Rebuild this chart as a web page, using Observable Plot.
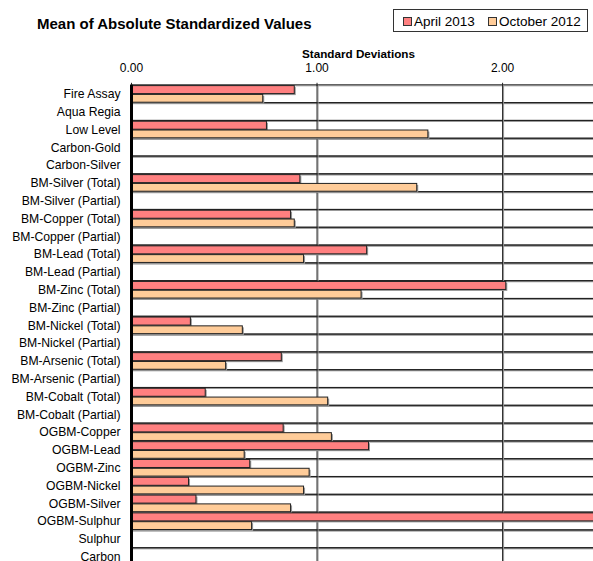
<!DOCTYPE html>
<html><head><meta charset="utf-8">
<script src="https://cdn.jsdelivr.net/npm/d3@7"></script>
<script src="https://cdn.jsdelivr.net/npm/@observablehq/plot@0.6"></script>
<style>
html,body{margin:0;padding:0;background:#fff;overflow:hidden;font-family:"Liberation Sans",Arial,sans-serif;}
#header{position:relative;height:40px;width:593px;}
#title{position:absolute;left:37px;top:14.7px;font-size:15px;font-weight:bold;color:#000;white-space:nowrap;line-height:normal;}
#legend{position:absolute;left:393px;top:9px;width:195px;height:23px;border:1px solid #333;box-sizing:border-box;}
.sw{position:absolute;top:7px;width:7px;height:7px;border:1px solid #333;}
.lt{position:absolute;top:3.5px;font-size:13.5px;white-space:nowrap;line-height:normal;color:#000;}
#chart svg g[aria-label="y-axis tick label"] text{fill:#000;}
</style></head><body>
<div id="header">
  <div id="title">Mean of Absolute Standardized Values</div>
  <div id="legend"></div>
</div>
<div id="chart"></div>
<script>
const categories = ["Fire Assay","Aqua Regia","Low Level","Carbon-Gold","Carbon-Silver","BM-Silver (Total)","BM-Silver (Partial)","BM-Copper (Total)","BM-Copper (Partial)","BM-Lead (Total)","BM-Lead (Partial)","BM-Zinc (Total)","BM-Zinc (Partial)","BM-Nickel (Total)","BM-Nickel (Partial)","BM-Arsenic (Total)","BM-Arsenic (Partial)","BM-Cobalt (Total)","BM-Cobalt (Partial)","OGBM-Copper","OGBM-Lead","OGBM-Zinc","OGBM-Nickel","OGBM-Silver","OGBM-Sulphur","Sulphur","Carbon"];
const april2013 = [0.88, null, 0.73, null, null, 0.91, null, 0.86, null, 1.27, null, 2.02, null, 0.32, null, 0.81, null, 0.40, null, 0.82, 1.28, 0.64, 0.31, 0.35, 2.65, null, null];
const october2012 = [0.71, null, 1.60, null, null, 1.54, null, 0.88, null, 0.93, null, 1.24, null, 0.60, null, 0.51, null, 1.06, null, 1.08, 0.61, 0.96, 0.93, 0.86, 0.65, null, null];
const seriesNames = ["April 2013", "October 2012"];
const seriesColors = ["#FF8080", "#FFCC99"];
const xTicks = [0, 1, 2];
const axisTitle = "Standard Deviations";

// legend
const legend = document.getElementById("legend");
const swX = [9, 94], txX = [20, 105];
seriesNames.forEach((s, i) => {
  const sw = document.createElement("div");
  sw.className = "sw"; sw.style.left = swX[i] + "px"; sw.style.background = seriesColors[i];
  const t = document.createElement("div");
  t.className = "lt"; t.style.left = txX[i] + "px"; t.textContent = s;
  legend.appendChild(sw); legend.appendChild(t);
});

const rows = categories.flatMap((c, i) => [
  {category: c, series: seriesNames[0], value: april2013[i]},
  {category: c, series: seriesNames[1], value: october2012[i]}
]).filter(d => d.value != null);
const aprilRows = rows.filter(d => d.series === seriesNames[0]);
const octRows = rows.filter(d => d.series === seriesNames[1]);

const chart = Plot.plot({
  width: 593,
  height: 525.5,
  marginTop: 44.8,
  marginBottom: 0,
  marginLeft: 131,
  marginRight: 0,
  style: {fontFamily: "'Liberation Sans', Arial, sans-serif", fontSize: "12px", color: "#000", background: "#fff"},
  x: {domain: [0, 2.49]},
  y: {domain: categories, padding: 0, round: false},
  marks: [
    // row separators
    Plot.barX(categories, {x1: 0, x2: 2.7, y: d => d, fill: "none", stroke: "#999", dy: 1}),
    Plot.barX(categories, {x1: 0, x2: 2.7, y: d => d, fill: "none", stroke: "#222"}),
    // vertical gridlines
    Plot.ruleX(xTicks.filter(d => d > 0), {stroke: "#999", dx: 1}),
    Plot.ruleX(xTicks.filter(d => d > 0), {stroke: "#222"}),
    // bar shadows
    Plot.barX(aprilRows, {x: "value", y: "category", fill: "#999", dx: 1.5, dy: 1.5, insetTop: 0.8, insetBottom: 9}),
    Plot.barX(octRows, {x: "value", y: "category", fill: "#999", dx: 1.5, dy: 1.5, insetTop: 9.6, insetBottom: 0.4}),
    // bars
    Plot.barX(aprilRows, {x: "value", y: "category", fill: seriesColors[0], stroke: "#222", strokeWidth: 1, insetTop: 0.8, insetBottom: 9}),
    Plot.barX(octRows, {x: "value", y: "category", fill: seriesColors[1], stroke: "#222", strokeWidth: 1, insetTop: 9.6, insetBottom: 0.4}),
    // axes
    Plot.axisX({anchor: "top", ticks: xTicks, tickFormat: d3.format(".2f"), tickSize: 3, tickPadding: 10, label: null, stroke: "#222"}),
    Plot.text([axisTitle], {frameAnchor: "top", dx: -4, dy: -35.8, fontWeight: "bold", fontSize: 11.7, fill: "#000"}),
    Plot.axisY({anchor: "left", tickSize: 0, tickPadding: 11, label: null, fontSize: 12.2}),
    Plot.ruleX([0], {stroke: "#000", strokeWidth: 3})
  ]
});
document.getElementById("chart").appendChild(chart);
</script>
</body></html>
